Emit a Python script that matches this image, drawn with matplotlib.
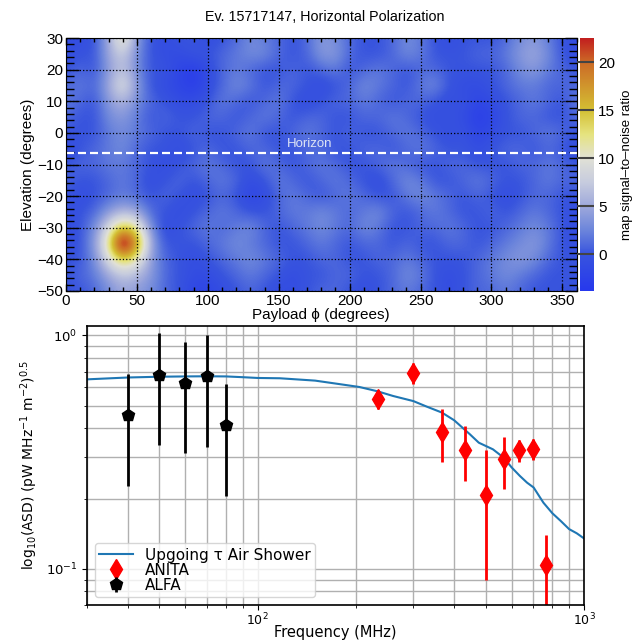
import numpy as np
import matplotlib
matplotlib.use("Agg")
import matplotlib.pyplot as plt
from matplotlib.colors import LinearSegmentedColormap
from matplotlib.ticker import MultipleLocator

# top panel: coarse SNR grid (phi 0..360 step 10, elevation 30..-50 step 5)
map_phi = np.arange(0, 361, 10)
map_el = np.arange(30, -51, -5)
snr_rows = [
    [-1, -1, 0, 5, 12, 4, 0, -1, 0, 0,   -1, 0, 1, 3, 2, 1, 0, 1, 4, 3,   1, 0, 0, 1, 3, 2, 0, -1, 0, 0,   0, 1, 3, 4, 2, 0, -1],
    [-1, 0, 0, 5, 8, 3, 0, -1, -1, 0,    0, 1, 2, 3, 3, 1, 0, 1, 4, 4,    1, 0, 0, 1, 3, 2, 0, 0, 0, 1,    1, 2, 4, 5, 3, 0, -1],
    [0, 1, 0, 4, 7, 3, 0, 0, -2, -3,     -1, 1, 2, 1, 0, 0, 1, 0, 1, 2,   0, 1, 2, 1, 0, 1, 1, 0, 0, 0,    0, 1, 3, 4, 2, 1, 0],
    [1, 2, 1, 5, 10, 4, 0, -1, -2, -3,   -1, 1, 3, 2, 0, 1, 1, 0, -1, 0,  1, 3, 2, 1, 0, 2, 3, 0, -1, -1,  0, 1, 2, 2, 1, 1, 1],
    [2, 1, 0, 4, 6, 3, 1, 0, -1, -1,     0, 2, 1, 0, 1, 2, 0, -1, 0, 1,   1, 2, 1, 0, 1, 1, 0, -1, 0, -2,  -1, 0, 1, 2, 1, 0, 2],
    [1, 0, 0, 3, 4, 2, 0, 1, 0, 0,       1, 1, 0, 1, 2, 1, 0, 1, 1, 0,    0, 1, 1, 2, 1, 0, -1, 0, -1, -3, -2, 0, 1, 1, 0, 0, 1],
    [0, 0, 0, 2, 3, 2, 1, 0, 0, 1,       0, 0, 1, 2, 0, 0, 1, 2, 1, 0,    1, 0, 0, 1, 2, 1, 0, -1, 0, -2,  -1, 0, 0, 1, 2, 1, 0],
    [-1, 0, 1, 2, 3, 1, 0, 0, -1, 0,     1, 0, 0, 1, 1, 0, 0, 1, 1, 0,    0, 1, 1, 0, 1, 2, 1, 0, 0, -1,   0, 1, 1, 0, 1, 0, -1],
    [0, 1, 1, 2, 2, 1, 0, -1, 0, 1,      2, 1, 0, 0, 2, 1, 0, 1, 2, 1,    0, 0, 1, 2, 1, 0, 0, 1, 1, 0,    0, 0, 1, 1, 2, 1, 0],
    [1, 0, 0, 1, 2, 1, -1, 0, 1, 0,      1, 2, 1, -1, 0, 2, 1, 0, 1, 2,   1, 0, -1, 1, 3, 2, 0, 0, 1, 2,   1, 0, 0, 1, 2, 1, 1],
    [0, -1, 0, 1, 2, 1, 0, 1, 0, -1,     0, 1, 0, -2, -1, 1, 2, 1, 0, 1,  2, 1, 0, 0, 2, 3, 2, 1, 0, 1,    0, -1, 0, 1, 1, 0, 0],
    [-1, 0, 1, 4, 6, 5, 1, 0, -1, 0,     1, 2, 1, 0, 0, 1, 2, 2, 3, 2,    1, 2, 3, 1, 0, 1, 2, 1, 0, 0,    1, 0, 1, 2, 1, 0, -1],
    [-1, 0, 3, 9, 15, 12, 3, -1, 0, 1,   2, 1, 2, 3, 1, 0, 1, 2, 3, 2,    1, 3, 2, 0, 0, 1, 1, 2, 1, 0,    0, 1, 2, 3, 2, 0, -1],
    [-1, 0, 4, 12, 29, 18, 5, 0, 0, 0,   1, 2, 3, 2, 1, 0, 0, 1, 2, 1,    0, 1, 1, 0, 1, 0, 0, 1, 1, 0,    1, 2, 3, 4, 2, 0, -1],
    [0, 0, 3, 9, 14, 11, 4, 1, 0, -1,    0, 1, 2, 3, 2, 1, 0, 0, 1, 1,    0, 0, 1, 1, 2, 1, 0, 0, 0, 1,    2, 3, 4, 3, 1, 0, 0],
    [0, 1, 2, 5, 7, 6, 4, 1, 0, -1,      -1, 0, 1, 2, 1, 0, -1, 0, 0, 1,  1, 0, 0, 1, 3, 2, 0, -1, 0, 1,   2, 3, 2, 1, 0, 0, 0],
    [0, 0, 1, 3, 5, 4, 3, 1, 0, -2,      -2, -1, 0, 1, 0, -1, -1, 0, 1, 1, 0, -1, 0, 1, 2, 1, 0, -1, 0, 1,  1, 2, 1, 0, 0, 0, 0],
]
horizon_el = -6.5
snr_min, snr_max = -3.8, 22.5
cbar_ticks = [0, 5, 10, 15, 20]

# bottom panel
shower_freq = [30, 40, 50, 60, 70, 80, 90, 100, 117, 150, 180, 205, 233, 260, 300, 330, 367,
               400, 447, 476, 526, 568, 600, 636, 669, 701, 751, 800, 850, 900, 950, 1000]
shower_asd = [0.648, 0.660, 0.665, 0.667, 0.668, 0.667, 0.662, 0.657, 0.655, 0.640, 0.617, 0.601,
              0.576, 0.550, 0.523, 0.495, 0.467, 0.433, 0.377, 0.347, 0.325, 0.299, 0.272, 0.250,
              0.234, 0.223, 0.192, 0.173, 0.160, 0.148, 0.142, 0.135]

anita_freq = [233, 300, 367, 433, 500, 567, 633, 700, 767]
anita_asd = [0.536, 0.692, 0.386, 0.323, 0.207, 0.294, 0.322, 0.326, 0.104]
anita_err = [0.050, 0.072, 0.100, 0.086, 0.117, 0.074, 0.034, 0.034, 0.036]

alfa_freq = [40, 50, 60, 70, 80]
alfa_asd = [0.455, 0.679, 0.625, 0.667, 0.412]
alfa_err = [0.228, 0.340, 0.313, 0.334, 0.206]

snr = np.array(snr_rows, dtype=float)

cmap = LinearSegmentedColormap.from_list("snr", [
    ((-3.8 - snr_min) / (snr_max - snr_min), (0.15, 0.22, 0.93)),
    ((0.0 - snr_min) / (snr_max - snr_min), (0.22, 0.33, 0.87)),
    ((2.5 - snr_min) / (snr_max - snr_min), (0.42, 0.52, 0.86)),
    ((5.0 - snr_min) / (snr_max - snr_min), (0.62, 0.66, 0.86)),
    ((7.5 - snr_min) / (snr_max - snr_min), (0.78, 0.80, 0.87)),
    ((10.0 - snr_min) / (snr_max - snr_min), (0.88, 0.88, 0.84)),
    ((12.5 - snr_min) / (snr_max - snr_min), (0.90, 0.89, 0.50)),
    ((15.0 - snr_min) / (snr_max - snr_min), (0.83, 0.75, 0.20)),
    ((20.0 - snr_min) / (snr_max - snr_min), (0.80, 0.42, 0.15)),
    (1.0, (0.76, 0.12, 0.12)),
])

root_font = ["Liberation Sans", "DejaVu Sans"]

fig = plt.figure(figsize=(6.38, 6.41), dpi=100)
ax1 = fig.add_axes([66 / 638, 1 - 291 / 641, 510.5 / 638, 253 / 641])
cax = fig.add_axes([580 / 638, 1 - 291 / 641, 14 / 638, 253 / 641])
ax2 = fig.add_axes([87 / 638, 1 - 605 / 641, 497 / 638, 279.3 / 641])

im = ax1.imshow(snr, extent=[map_phi[0] - 5, map_phi[-1] + 5, map_el[-1] - 2.5, map_el[0] + 2.5],
                origin="upper", cmap=cmap, vmin=snr_min, vmax=snr_max,
                interpolation="bicubic", interpolation_stage="data", aspect="auto")
ax1.set_xlim(0, 360)
ax1.set_ylim(-50, 30)
ax1.xaxis.set_major_locator(MultipleLocator(50))
ax1.xaxis.set_minor_locator(MultipleLocator(10))
ax1.yaxis.set_major_locator(MultipleLocator(10))
ax1.yaxis.set_minor_locator(MultipleLocator(2))
ax1.grid(True, which="major", color="black", linestyle=":", linewidth=0.9)
ax1.tick_params(which="both", direction="in", top=True, right=True, width=1)
ax1.tick_params(axis="x", which="major", length=5)
ax1.tick_params(axis="x", which="minor", length=3)
ax1.tick_params(axis="y", which="major", length=9)
ax1.tick_params(axis="y", which="minor", length=6)
ax1.tick_params(labelsize=11, pad=2)
for lab in ax1.get_xticklabels() + ax1.get_yticklabels():
    lab.set_family(root_font)
ax1.axhline(horizon_el, color="white", linestyle=(0, (3.6, 1.8)), linewidth=1.6)
ax1.text(172, -3.5, "Horizon", color="#dde3f5", ha="center", va="center",
         fontsize=9.5, family=root_font)
ax1.set_ylabel("Elevation (degrees)", fontsize=11, family=root_font, labelpad=2)
ax1.set_xlabel("Payload ϕ (degrees)", fontsize=11, family=root_font, labelpad=0)
fig.text(0.509, 0.973, "Ev. 15717147, Horizontal Polarization", ha="center", va="center",
         fontsize=10.3, family=root_font)

cb = fig.colorbar(im, cax=cax)
cb.set_ticks(cbar_ticks)
cb.outline.set_visible(False)
cax.tick_params(direction="in", length=12, width=1.5, color="#444444", labelsize=11, pad=3)
for lab in cax.get_yticklabels():
    lab.set_family(root_font)
cb.set_label("map signal–to–noise ratio", fontsize=9.5, family=root_font, labelpad=4)

# bottom panel
ax2.plot(shower_freq, shower_asd, color="#1f77b4", linewidth=1.5, label="Upgoing τ Air Shower")
ax2.errorbar(anita_freq, anita_asd, yerr=anita_err, fmt="d", color="red", markersize=10,
             elinewidth=2, capsize=0, label="ANITA")
ax2.errorbar(alfa_freq, alfa_asd, yerr=alfa_err, fmt="p", color="black", markersize=9,
             elinewidth=2, capsize=0, label="ALFA")
ax2.set_xscale("log")
ax2.set_yscale("log")
ax2.set_xlim(30, 1000)
ax2.set_ylim(0.07, 1.1)
ax2.grid(True, which="both", color="#b0b0b0", linewidth=1)
ax2.set_axisbelow(True)
ax2.tick_params(labelsize=9.5)
ax2.tick_params(axis="x", which="both", pad=1.5, labelsize=9)
for sp in ax2.spines.values():
    sp.set_linewidth(1.2)
ax2.set_ylabel(r"log$_{10}$(ASD) (pW MHz$^{-1}$ m$^{-2}$)$^{0.5}$", fontsize=10)
fig.text(335.5 / 638, 1.5 / 641, "Frequency (MHz)", ha="center", va="bottom", fontsize=10.5)
ax2.legend(loc="lower left", fontsize=11, labelspacing=0.0, borderpad=0.3,
           handlelength=2.2, framealpha=0.8)

fig.savefig("out.png", dpi=100)
